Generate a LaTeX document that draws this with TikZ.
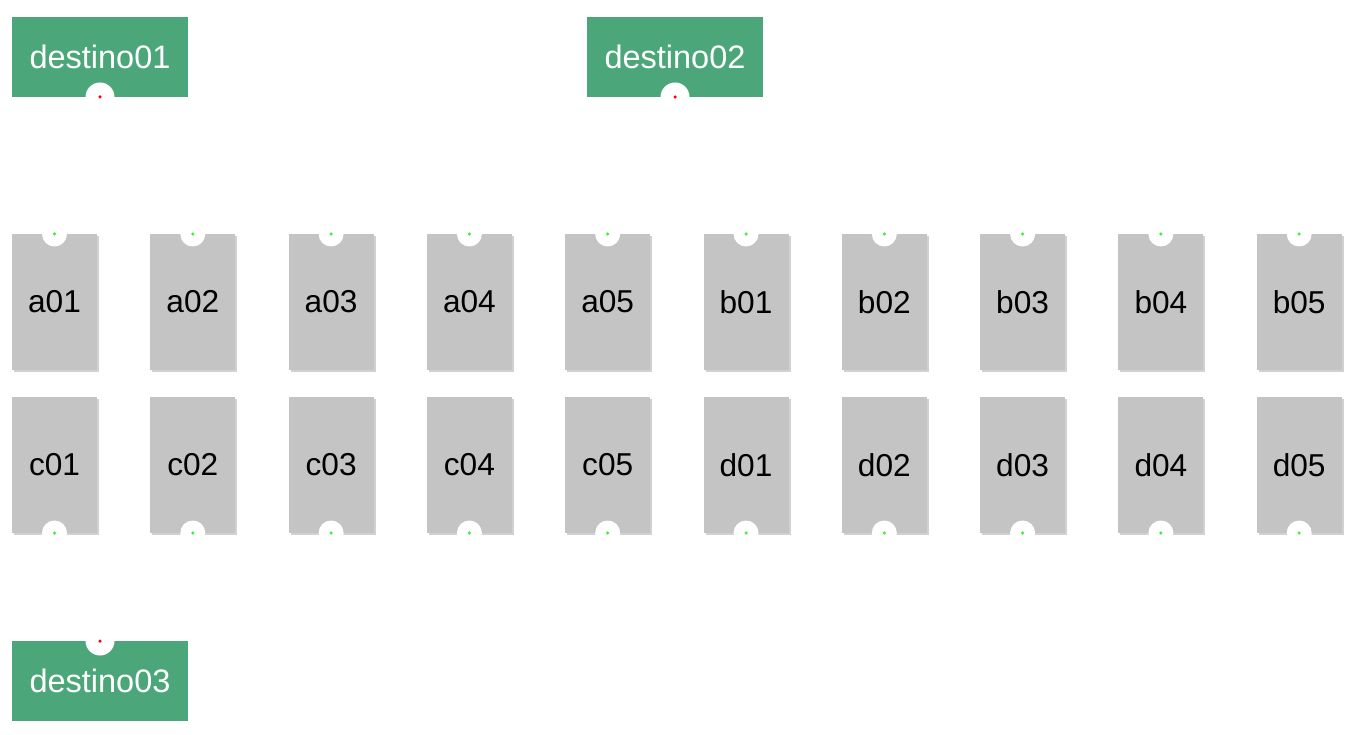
\documentclass[tikz,border=0pt]{standalone}
\usepackage{fontspec}
\setmainfont{Liberation Sans}
\usetikzlibrary{positioning,shadows}
\definecolor{destgreen}{HTML}{4BA77A}
\definecolor{cardgray}{HTML}{C4C4C4}
\definecolor{dotgreen}{HTML}{3CF03C}

\begin{document}
\begin{tikzpicture}[
  deststyle/.style={rectangle,fill=destgreen,text=white,minimum width=3.52cm,minimum height=1.6cm,inner sep=0,outer sep=0,font=\fontsize{18.5}{22}\selectfont},
  cardstyle/.style={rectangle,fill=cardgray,minimum width=1.7cm,minimum height=2.72cm,inner sep=0,outer sep=0,font=\fontsize{18}{22}\selectfont,
    drop shadow={shadow xshift=0.04cm,shadow yshift=-0.04cm,fill=black!30,opacity=0.6}},
  notchstyle/.style={circle,fill=white,inner sep=0,minimum size=#1,anchor=center,
    path picture={\fill[dotcolor] (path picture bounding box.center) circle (0.035cm);}},
  dotcolor/.style={fill=dotgreen},
  desttop/.style={deststyle,label={[notchstyle=0.58cm,dotcolor/.style={fill=red}]south:{}}},
  destbot/.style={deststyle,label={[notchstyle=0.58cm,dotcolor/.style={fill=red}]north:{}}},
  cardtop/.style={cardstyle,label={[notchstyle=0.5cm]north:{}}},
  cardbot/.style={cardstyle,label={[notchstyle=0.5cm]south:{}}},
  node distance=1.066cm
]
\useasboundingbox (0,0) rectangle (27.22,-14.7);

% destinos
\node[desttop] (destino01) at (2.0,-1.14) {destino01};
\node[desttop] (destino02) at (13.5,-1.14) {destino02};
\node[destbot] (destino03) at (2.0,-13.62) {destino03};

% fila de arriba
\node[cardtop] (a01) at (1.09,-6.04) {a01};
\node[cardtop,right=of a01] (a02) {a02};
\node[cardtop,right=of a02] (a03) {a03};
\node[cardtop,right=of a03] (a04) {a04};
\node[cardtop,right=of a04] (a05) {a05};
\node[cardtop,right=of a05] (b01) {b01};
\node[cardtop,right=of b01] (b02) {b02};
\node[cardtop,right=of b02] (b03) {b03};
\node[cardtop,right=of b03] (b04) {b04};
\node[cardtop,right=of b04] (b05) {b05};

% fila de abajo
\node[cardbot,below=0.54cm of a01] (c01) {c01};
\node[cardbot,right=of c01] (c02) {c02};
\node[cardbot,right=of c02] (c03) {c03};
\node[cardbot,right=of c03] (c04) {c04};
\node[cardbot,right=of c04] (c05) {c05};
\node[cardbot,right=of c05] (d01) {d01};
\node[cardbot,right=of d01] (d02) {d02};
\node[cardbot,right=of d02] (d03) {d03};
\node[cardbot,right=of d03] (d04) {d04};
\node[cardbot,right=of d04] (d05) {d05};
\end{tikzpicture}
\end{document}
